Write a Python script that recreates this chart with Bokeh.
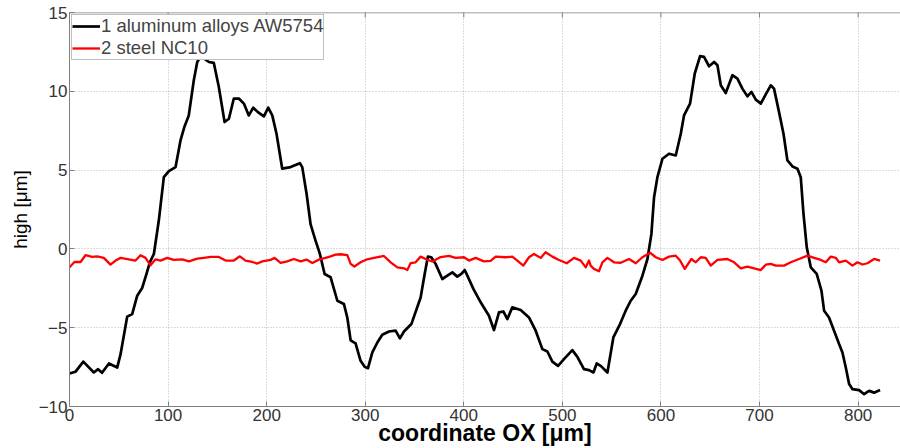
import math
from bokeh.plotting import figure
from bokeh.models import Range1d, FixedTicker, Legend, LegendItem, Span
from bokeh.embed import file_html
from bokeh.resources import INLINE

# Profile 1: aluminum alloys AW5754
al_x = [0, 6, 14, 24.7, 29, 33, 40, 48.4, 51.8, 58.5, 63.6, 68.7, 73.7, 78.1, 81.5, 85.6,
        90.6, 95.7, 100.8, 107.6, 112.6, 116.7, 121, 126.1, 129.6, 133.6, 137, 141.4, 146.4,
        151.5, 157.3, 161.7, 166.7, 171.8, 176.9, 181.9, 186.4, 191.1, 197.2, 201.6, 205.7,
        210, 215.8, 224.3, 233.7, 236.1, 240.5, 244.6, 249.6, 254, 258.8, 264.9, 271.7, 278.4,
        281.8, 285.2, 290.2, 295.3, 299.4, 302.8, 307.2, 312.3, 317.3, 324.1, 330.8, 335.2,
        339.3, 346.8, 356.2, 360.3, 363.6, 367, 371.4, 378.2, 383.3, 388.4, 393.4, 397.5,
        400.9, 403.6, 409.7, 417.1, 425.5, 430.6, 435.7, 440.1, 444.2, 449.2, 457.7, 466.1,
        472.9, 479.7, 484.8, 489.8, 495.6, 501.6, 510.1, 515.2, 521.9, 527, 531.5, 534.8,
        538.9, 545.7, 551.7, 558.5, 564.2, 569.3, 574.4, 581.2, 586.3, 590.3, 593, 596.4,
        601.5, 608.2, 615, 620.1, 623.4, 629.5, 634.3, 639.7, 643.7, 648.8, 653.9, 657.3,
        660.7, 665.7, 672.5, 677.6, 682.6, 687.7, 691.8, 696.2, 701.3, 706.3, 711.4, 714.7,
        719.8, 724.3, 728.3, 733.4, 738.5, 741.8, 744.6, 747.9, 752, 758, 762.8, 765.5,
        770.5, 775.6, 780.7, 784.1, 787.5, 790.9, 794.3, 801, 806.1, 811.1, 816.2, 822.3]
al_y = [-7.91, -7.8, -7.15, -7.84, -7.63, -7.86, -7.27, -7.53, -6.68, -4.3, -4.14, -2.97,
        -2.48, -1.59, -0.85, -0.32, 1.8, 4.55, 4.93, 5.19, 6.88, 7.77, 8.47, 10.7, 11.86,
        12.29, 12.05, 11.86, 11.8, 10.27, 8.05, 8.26, 9.54, 9.54, 9.22, 8.47, 8.96, 8.68,
        8.41, 8.96, 8.47, 7.31, 5.09, 5.19, 5.44, 5.19, 3.5, 1.55, 0.53, -0.32, -1.59, -1.8,
        -3.29, -3.5, -4.35, -5.8, -6.0, -7.1, -7.48, -7.57, -6.57, -5.94, -5.45, -5.24, -5.19,
        -5.68, -5.24, -4.77, -3.08, -1.59, -0.49, -0.53, -0.95, -1.91, -1.7, -1.49, -1.76,
        -1.59, -1.34, -1.7, -2.54, -3.39, -4.24, -5.15, -4.03, -3.97, -4.45, -3.71, -3.88,
        -4.35, -5.19, -6.36, -6.51, -7.15, -7.42, -6.99, -6.42, -6.85, -7.63, -7.69, -7.84,
        -7.27, -7.42, -7.84, -5.62, -4.77, -3.92, -3.29, -2.86, -1.7, -0.64, 0.95, 3.28,
        4.55, 5.72, 6.04, 5.93, 7.31, 8.47, 9.22, 11.13, 12.23, 12.18, 11.59, 11.86, 11.65,
        10.38, 9.89, 11.02, 10.81, 10.17, 9.68, 9.96, 9.47, 9.22, 9.8, 10.38, 10.17, 8.68,
        7.31, 5.61, 5.23, 5.09, 4.55, 2.22, 0.1, -1.17, -1.59, -2.65, -3.92, -4.35, -5.19,
        -6.04, -6.57, -7.53, -8.58, -8.9, -8.96, -9.22, -9.01, -9.12, -8.96]

# Profile 2: steel NC10
st_x = [0, 5, 11.2, 16.2, 23, 28.1, 34.8, 41.6, 46.7, 51.8, 60.2, 67, 72, 77.1, 82.2, 87.3,
        92.3, 99.1, 105.8, 114.4, 121.1, 129.6, 136.3, 143.1, 151.5, 158.3, 166.7, 172.8,
        178.6, 185.4, 190.5, 195.6, 204, 208, 214.1, 220.8, 227.6, 234.4, 240.5, 246.3, 253,
        259.8, 264.9, 269.9, 275, 281.8, 285.2, 289, 295.3, 302, 309, 319, 325.8, 332.6,
        339.3, 342.7, 346, 351.1, 356.2, 361.3, 368, 376.5, 385, 391.7, 400.2, 405.2, 412,
        420.4, 427.2, 432.3, 442.5, 449.2, 454.3, 460.4, 466.1, 471.2, 478, 483, 489.8,
        496.6, 504.4, 511.8, 518.6, 523.7, 527, 528.7, 532, 537.1, 540.6, 545.7, 552.4,
        559.2, 567.6, 574.4, 581.2, 588.9, 594.7, 601.5, 608.2, 615, 619.4, 624.1, 630.9,
        635.3, 640.4, 645.4, 650.5, 657.3, 667.4, 674.2, 681, 687.7, 694.5, 701.3, 706.3,
        711.4, 716.5, 724.9, 731.7, 740.1, 748.6, 755.4, 762.2, 767.2, 772.3, 777.4, 780.7,
        787.5, 794.3, 799.3, 804.4, 809.5, 816.2, 822.3]
st_y = [-1.17, -0.83, -0.83, -0.4, -0.51, -0.47, -0.57, -1.0, -0.74, -0.57, -0.66, -0.74,
        -0.4, -0.57, -1.04, -0.66, -0.74, -0.57, -0.7, -0.66, -0.79, -0.62, -0.57, -0.51,
        -0.51, -0.74, -0.74, -0.47, -0.74, -0.83, -0.93, -0.79, -0.7, -0.57, -0.89, -0.79,
        -0.64, -0.79, -0.68, -0.89, -0.68, -0.57, -0.47, -0.36, -0.34, -0.4, -0.95, -1.12,
        -0.85, -0.66, -0.57, -0.45, -0.85, -1.17, -1.23, -1.34, -0.91, -0.85, -0.49, -0.64,
        -0.8, -0.52, -0.44, -0.57, -0.53, -0.74, -0.57, -0.79, -0.76, -0.49, -0.53, -0.49,
        -0.74, -1.06, -0.53, -0.32, -0.57, -0.21, -0.49, -0.7, -0.91, -0.57, -0.74, -1.17,
        -0.74, -1.06, -1.27, -1.42, -0.85, -0.57, -0.85, -0.88, -0.64, -0.91, -0.53, -0.24,
        -0.53, -0.7, -0.49, -0.43, -0.74, -1.27, -0.64, -0.85, -0.53, -0.57, -1.06, -0.7,
        -0.64, -0.85, -1.23, -1.12, -1.23, -1.34, -1.0, -0.95, -1.06, -1.06, -0.85, -0.64,
        -0.43, -0.57, -0.7, -0.85, -0.49, -0.57, -0.85, -0.74, -1.06, -0.85, -0.99, -0.91,
        -0.64, -0.74]

x_ticks = [0, 100, 200, 300, 400, 500, 600, 700, 800]
y_ticks = [-10, -5, 0, 5, 10, 15]
series_labels = ["1 aluminum alloys AW5754", "2 steel NC10"]

FONT = "Liberation Sans"
AXIS_COL = "#7f7f7f"
X_MAX = 843
Y_MIN, Y_MAX = -10, 15

p = figure(width=900, height=448, output_backend="svg", toolbar_location=None,
           x_range=Range1d(0, X_MAX), y_range=Range1d(Y_MIN, Y_MAX),
           min_border_left=69, min_border_right=0, min_border_top=12, min_border_bottom=42,
           x_axis_label="coordinate OX [\u03bcm]", y_axis_label="high [\u03bcm]")
p.outline_line_color = None
p.background_fill_color = "white"
p.border_fill_color = "white"

for ax in (p.xaxis[0], p.yaxis[0]):
    ax.major_tick_in = 5
    ax.major_tick_out = 0
    ax.minor_tick_in = 0
    ax.minor_tick_out = 0
    ax.axis_line_color = AXIS_COL
    ax.major_tick_line_color = AXIS_COL
    ax.major_label_text_font = FONT
    ax.major_label_text_font_size = "17px"
    ax.major_label_text_color = "#333333"
    ax.major_label_standoff = 2
    ax.axis_label_text_font = FONT
    ax.axis_label_text_color = "black"
    ax.axis_label_standoff = 0

p.xaxis[0].ticker = FixedTicker(ticks=x_ticks)
p.yaxis[0].ticker = FixedTicker(ticks=y_ticks)
p.xaxis[0].axis_label_text_font_size = "23px"
p.xaxis[0].axis_label_text_font_style = "bold"
p.xaxis[0].axis_label_standoff = -4
p.yaxis[0].axis_label_text_font_size = "19px"
p.yaxis[0].axis_label_text_font_style = "normal"
p.yaxis[0].axis_label_standoff = 5

p.xgrid.ticker = FixedTicker(ticks=x_ticks)
p.ygrid.ticker = FixedTicker(ticks=y_ticks)
for g in (p.xgrid[0], p.ygrid[0]):
    g.grid_line_color = "#b8b8b8"
    g.grid_line_dash = "1 2"
    g.grid_line_width = 1

# top border of the axes box with inward ticks (MATLAB box style)
p.add_layout(Span(location=Y_MAX, dimension="width", line_color=AXIS_COL, line_width=1.5))
p.scatter(x=x_ticks, y=[Y_MAX] * len(x_ticks), marker="dash", size=10,
          angle=math.pi / 2, line_color=AXIS_COL, line_width=1)

r1 = p.line(al_x, al_y, line_color="black", line_width=2.7, line_join="round")
r2 = p.line(st_x, st_y, line_color="#ff0000", line_width=2.3, line_join="round")

legend = Legend(items=[LegendItem(label=series_labels[0], renderers=[r1]),
                       LegendItem(label=series_labels[1], renderers=[r2])],
                location="top_left", margin=2, padding=0, spacing=-5,
                glyph_width=28, glyph_height=16, label_height=16, label_standoff=1,
                label_text_font=FONT, label_text_font_size="18.5px",
                border_line_color="#808080", border_line_width=1,
                background_fill_color="white", background_fill_alpha=1)
p.add_layout(legend)

open("out.html", "w").write(file_html(p, INLINE))
